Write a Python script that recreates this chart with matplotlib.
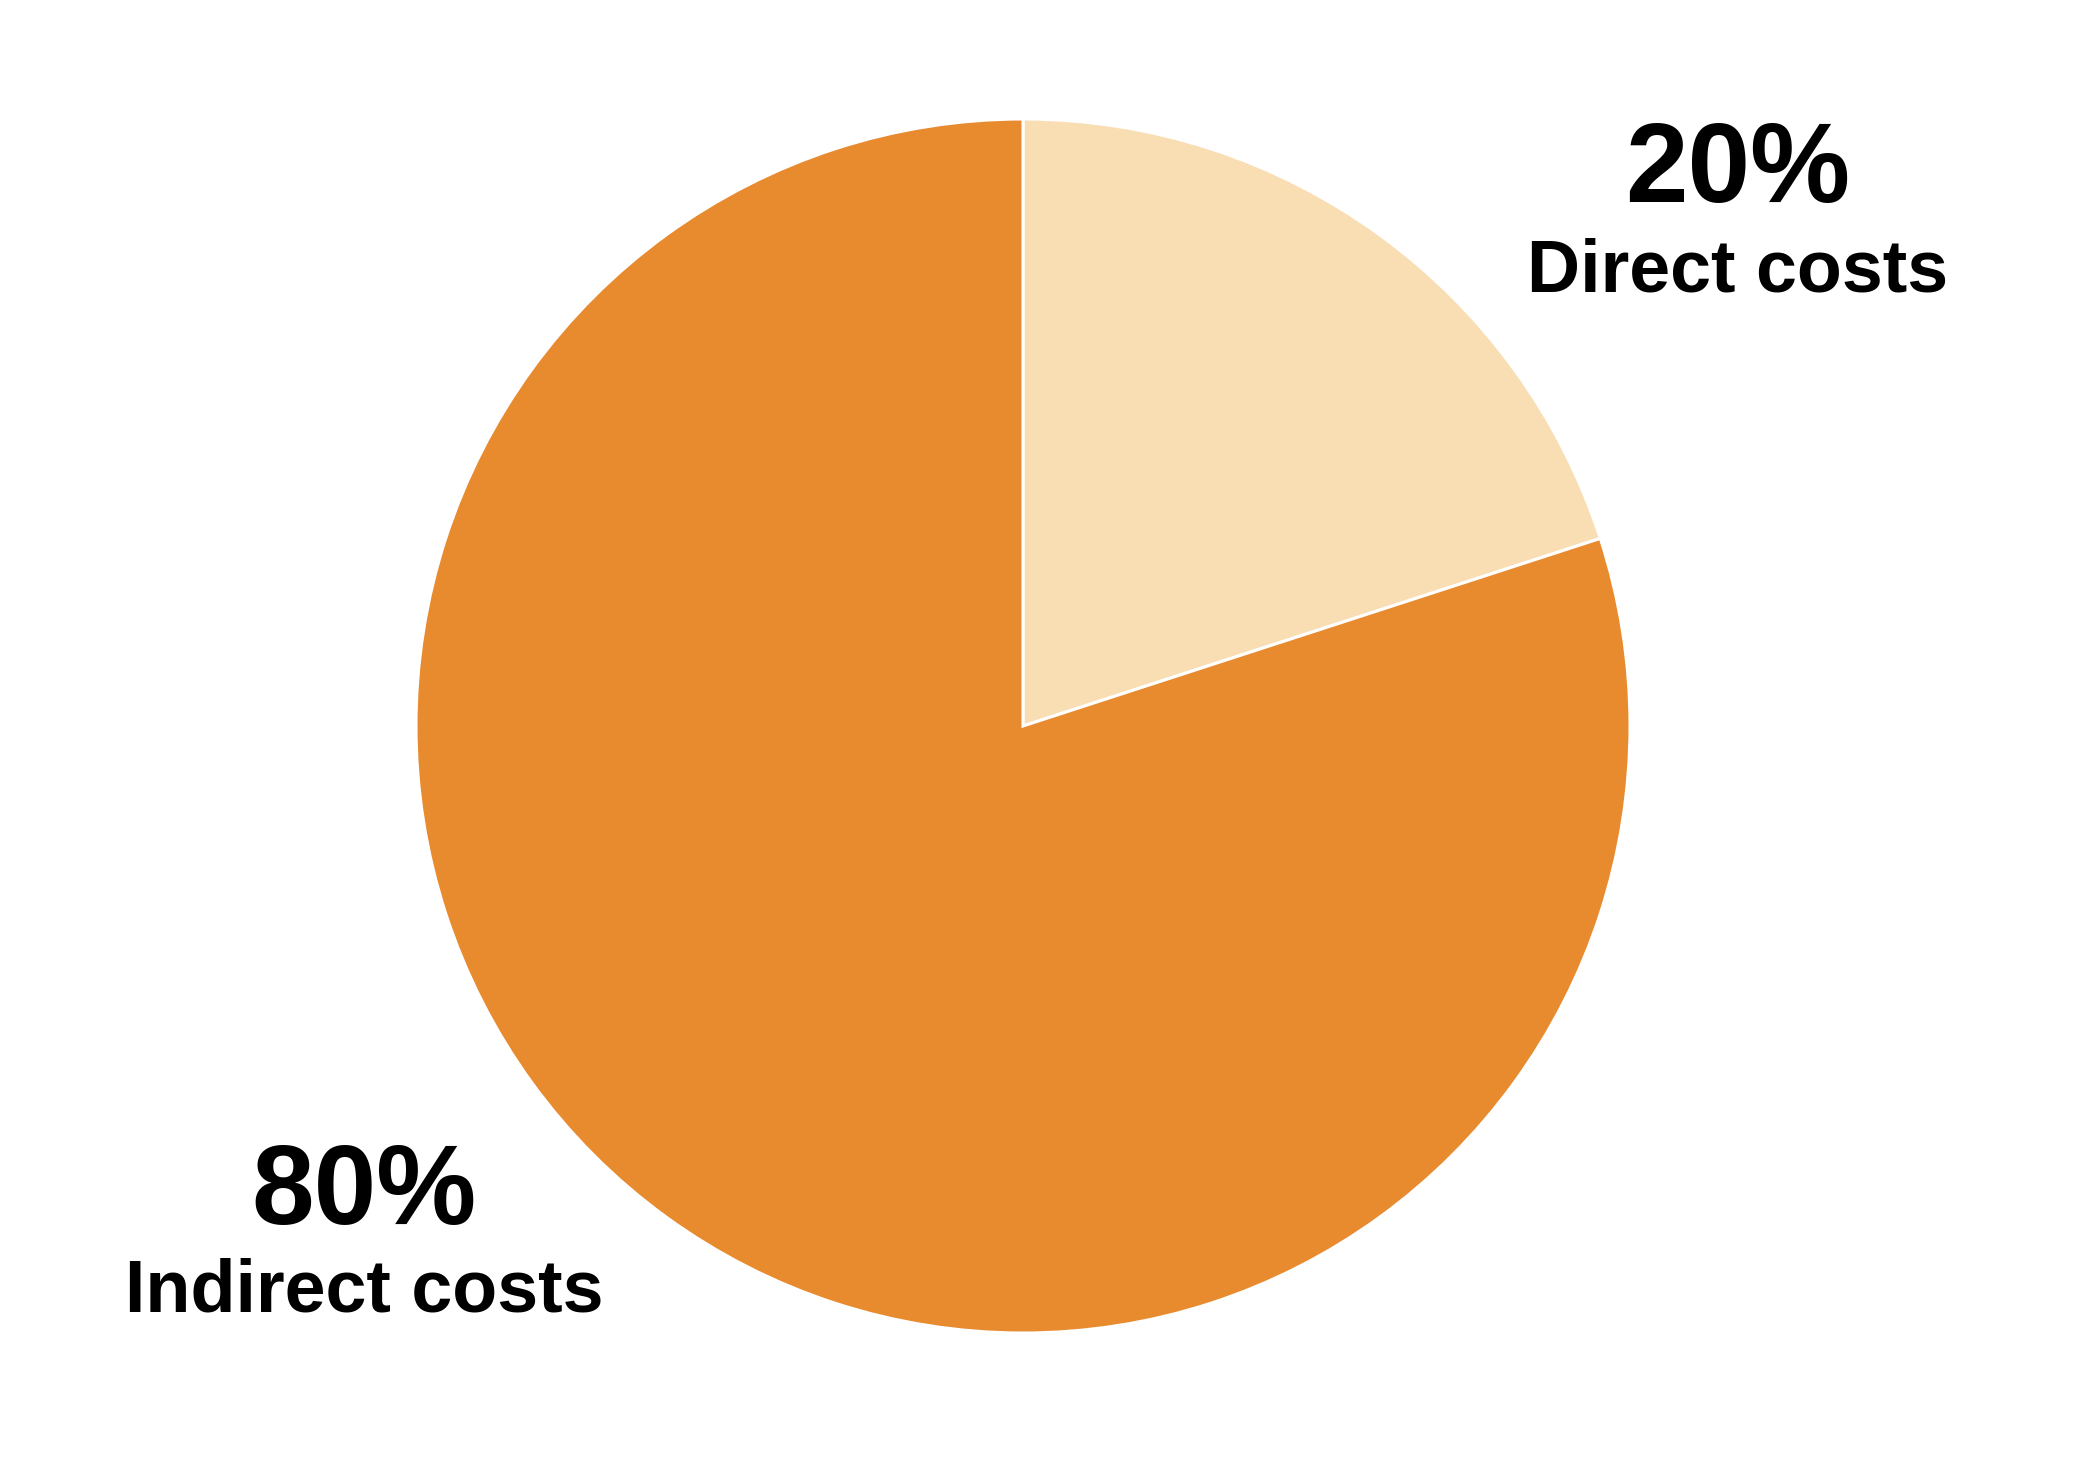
import matplotlib
matplotlib.use('Agg')
import matplotlib.pyplot as plt

labels = ['Direct costs', 'Indirect costs']
shares = [20, 80]
colors = ['#F9DEB4', '#E88A2E']

plt.rcParams['font.family'] = ['Liberation Sans', 'DejaVu Sans']

W, H = 2096, 1467
fig = plt.figure(figsize=(W / 100, H / 100), dpi=100)
ax = fig.add_axes([0, 0, 1, 1])

ax.pie(shares, colors=colors, startangle=90, counterclock=False,
       center=(1023, 741), radius=607,
       wedgeprops=dict(edgecolor='white', linewidth=2.2))
ax.set_xlim(0, W)
ax.set_ylim(0, H)
ax.set_aspect('equal')
ax.axis('off')

# label positions (pixel coords, y from bottom)
pos = [(1738, 1265, 1175), (364, 243, 155)]
for (x, y_pct, y_lab), lab, s in zip(pos, labels, shares):
    ax.text(x, y_pct, f'{s}%', ha='center', va='baseline',
            fontsize=81, fontweight='bold', color='black')
    ax.text(x, y_lab, lab, ha='center', va='baseline',
            fontsize=53, fontweight='bold', color='black')

fig.savefig('out.png', dpi=100, facecolor='white')
